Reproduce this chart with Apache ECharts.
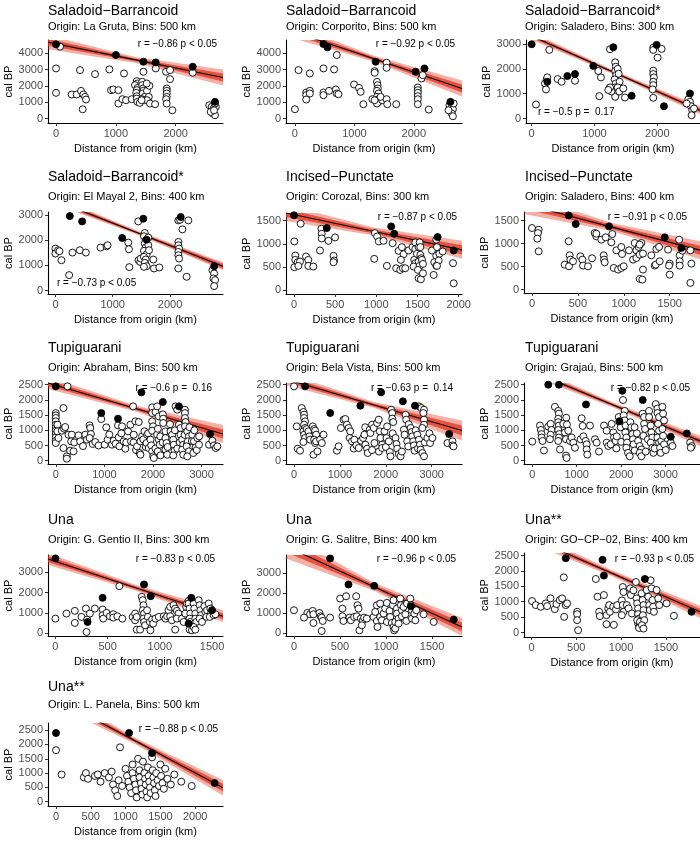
<!DOCTYPE html>
<html><head><meta charset="utf-8">
<script src="https://cdn.jsdelivr.net/npm/echarts/dist/echarts.min.js"></script>
<style>html,body{margin:0;padding:0;background:#fff}#c{width:700px;height:841px}</style>
</head><body><div id="c"></div>
<script>
// ---------------- DATA ----------------
const panelTitles = ["Saladoid−Barrancoid","Saladoid−Barrancoid","Saladoid−Barrancoid*","Saladoid−Barrancoid*","Incised−Punctate","Incised−Punctate","Tupiguarani","Tupiguarani","Tupiguarani","Una","Una","Una**","Una**"];
const panelSubtitles = ["Origin: La Gruta, Bins: 500 km","Origin: Corporito, Bins: 500 km","Origin: Saladero, Bins: 300 km","Origin: El Mayal 2, Bins: 400 km","Origin: Corozal, Bins: 300 km","Origin: Saladero, Bins: 400 km","Origin: Abraham, Bins: 500 km","Origin: Bela Vista, Bins: 500 km","Origin: Grajaú, Bins: 500 km","Origin: G. Gentio II, Bins: 300 km","Origin: G. Salitre, Bins: 400 km","Origin: GO−CP−02, Bins: 400 km","Origin: L. Panela, Bins: 500 km"];
const statLabels = ["r = −0.86 p < 0.05","r = −0.92 p < 0.05","r = −0.5 p =  0.17","r = −0.73 p < 0.05","r = −0.87 p < 0.05","r = −0.91 p < 0.05","r = −0.6 p =  0.16","r = −0.63 p =  0.14","r = −0.82 p < 0.05","r = −0.83 p < 0.05","r = −0.96 p < 0.05","r = −0.93 p < 0.05","r = −0.88 p < 0.05"];
const xAxisTitle = "Distance from origin (km)";
const yAxisTitle = "cal BP";

const xTicks1000 = [0, 1000, 2000];
const xTicks500to2000 = [0, 500, 1000, 1500, 2000];
const xTicks500to1500 = [0, 500, 1000, 1500];
const xTicks1000to3000 = [0, 1000, 2000, 3000];
const yTicks0to4000 = [0, 1000, 2000, 3000, 4000];
const yTicks0to3000 = [0, 1000, 2000, 3000];
const yTicks0to1500 = [0, 500, 1000, 1500];
const yTicks0to2500 = [0, 500, 1000, 1500, 2000, 2500];

// Panel 1 – La Gruta
const p1Open = [[67,4410],[0,3077],[0,1580],[401,2974],[652,2728],[891,3015],[1136,2769],[1460,2872],[1666,3077],[1838,2872],[1905,2974],[1905,2420],[2284,2810],[262,1477],[345,1477],[418,1700],[457,1477],[485,1333],[501,1170],[446,574],[919,1744],[958,1785],[1042,1744],[1042,923],[1109,1190],[1170,1128],[1265,1190],[1350,2297],[1360,2154],[1320,2051],[1365,1887],[1350,1744],[1340,1580],[1350,1374],[1350,1231],[1360,1026],[1440,2256],[1440,2051],[1455,1846],[1460,1703],[1450,1539],[1480,1333],[1435,1190],[1475,1128],[1520,1703],[1550,1333],[1520,1128],[1560,2010],[1400,964],[1430,1128],[1515,2154],[1571,923],[1655,882],[1850,1846],[1850,1703],[1850,1539],[1850,1333],[1840,1190],[1850,923],[1944,513],[2560,820],[2600,718],[2630,615],[2620,308],[2657,205],[2670,718],[2585,410],[2657,923],[2640,510]];
const p1Max = [[0,4554],[1000,3900],[1460,3487],[1666,3446],[2284,3180],[2657,1026]];
const p1FitX = [-134,1328,2790], p1FitY = [4680,3600,2520], p1BandIn = [215,90,245], p1BandOut = [430,185,490];

// Panel 2 – Corporito
const p2Open = [[0,574],[61,2974],[251,2769],[480,3077],[659,3015],[704,3897],[1542,3426],[1542,3118],[1341,2913],[1341,2810],[190,1600],[190,1436],[190,1170],[251,1703],[251,1539],[480,1600],[480,1436],[575,1703],[687,1785],[704,1539],[732,1497],[994,2092],[1078,1887],[1106,1641],[1151,882],[1302,1190],[1380,2256],[1390,2051],[1395,1846],[1380,1703],[1405,1539],[1380,1333],[1390,1169],[1405,1026],[1380,923],[1341,1128],[1469,1128],[1441,1333],[1542,1190],[1553,882],[1704,882],[2067,1908],[2067,1744],[2067,1580],[2067,1374],[2067,1190],[2067,882],[2128,2462],[2150,2667],[2251,554],[2600,820],[2640,718],[2657,574],[2640,308],[2657,144],[2583,513],[2670,923]];
const p2Max = [[480,4574],[547,4369],[1358,3487],[2028,2872],[2179,3077],[2615,1026]];
const p2FitX = [-150,1330,2810], p2FitY = [5485,3666,1846], p2BandIn = [215,90,245], p2BandOut = [430,185,490];

// Panel 3 – Saladero (Saladoid)
const p3Open = [[69,565],[281,2759],[240,1575],[249,1655],[212,1413],[228,1171],[414,1588],[477,1480],[690,1521],[1061,1911],[1103,1655],[1077,902],[1247,2786],[1236,1211],[1330,2261],[1340,2086],[1330,1911],[1345,1750],[1320,1575],[1340,1413],[1330,1252],[1320,1117],[1340,983],[1330,875],[1370,2000],[1385,1800],[1400,1480],[1370,1252],[1395,1090],[1270,1090],[1247,1252],[1220,1150],[1459,1211],[1485,848],[1936,2853],[1936,2759],[2069,2800],[2005,2450],[1936,1925],[1936,1790],[1946,1655],[1936,1480],[1936,1346],[1925,1171],[1936,835],[2494,780],[2520,673],[2536,498],[2557,336],[2546,135],[2584,404],[2467,606]];
const p3Max = [[0,2988],[249,1480],[568,1709],[690,1790],[981,2113],[1300,2867],[1592,915],[1989,2961],[2106,498],[2520,1009]];
const p3FitX = [-90,1295,2680], p3FitY = [3413,1874,335], p3BandIn = [80,40,80], p3BandOut = [160,80,160];

// Panel 4 – El Mayal 2
const p4Open = [[0,1664],[0,1468],[47,1599],[70,1560],[105,1206],[239,616],[297,1507],[426,1599],[531,1507],[787,1704],[892,1756],[910,1795],[1271,1900],[1283,1638],[1289,931],[1446,2739],[1450,1206],[1480,1140],[1490,1271],[1560,2280],[1545,2150],[1575,1992],[1560,1861],[1575,1704],[1545,1573],[1592,1442],[1545,1337],[1575,1232],[1560,1101],[1592,970],[1545,944],[1621,2100],[1621,1800],[1633,1600],[1708,1232],[1720,878],[1813,918],[2146,2778],[2175,2805],[2146,1927],[2146,1795],[2158,1664],[2146,1533],[2146,1402],[2158,1271],[2146,878],[2216,2424],[2320,2778],[2291,550],[2741,812],[2770,681],[2758,485],[2787,420],[2770,183]];
const p4Max = [[251,2949],[466,2739],[1166,2084],[1534,2844],[1592,2018],[2187,2910],[2770,970]];
const p4FitX = [-130,1397,2925], p4FitY = [3675,2321,966], p4BandIn = [100,40,100], p4BandOut = [160,80,160];

// Panel 5 – Corozal
const p5Open = [[4,1051],[16,746],[16,652],[4,493],[45,601],[73,616],[53,522],[81,1435],[146,725],[174,652],[174,522],[235,507],[316,855],[333,1326],[337,1217],[337,1116],[418,1065],[499,1138],[480,739],[487,638],[480,601],[982,1232],[1010,1159],[1030,1051],[974,674],[1087,1065],[1128,522],[1197,1014],[1241,471],[1290,435],[1322,471],[1351,471],[1270,848],[1310,928],[1331,775],[1298,652],[1391,855],[1440,928],[1473,1029],[1473,884],[1460,652],[1473,580],[1452,507],[1493,783],[1514,928],[1514,616],[1526,522],[1505,435],[1526,1029],[1534,928],[1534,761],[1546,688],[1554,652],[1566,565],[1513,254],[1541,232],[1566,362],[1675,855],[1728,739],[1704,601],[1728,522],[1696,326],[1728,1090],[1736,928],[1765,783],[1757,638],[1736,522],[1805,833],[1931,580],[1939,145]];
const p5Max = [[0,1616],[398,1341],[1180,1377],[1217,1217],[1744,1145],[1939,855]];
const p5FitX = [-97,971,2040], p5FitY = [1667,1268,869], p5BandIn = [87,43,98], p5BandOut = [175,87,195];

// Panel 6 – Saladero (Incised)
const p6Open = [[0,1341],[73,1304],[65,1232],[58,1109],[73,833],[400,1051],[410,746],[418,652],[356,543],[403,507],[447,616],[527,725],[549,652],[556,522],[610,507],[654,681],[683,1232],[701,1159],[701,1217],[755,1087],[781,746],[785,652],[792,594],[803,1138],[864,1029],[875,1210],[890,471],[937,435],[973,471],[919,855],[973,928],[981,775],[999,507],[1057,855],[1119,1014],[1101,652],[1137,688],[1137,855],[1162,928],[1173,761],[1173,232],[1202,217],[1191,1014],[1173,978],[1209,435],[1209,783],[1300,746],[1337,522],[1348,543],[1355,884],[1384,928],[1391,616],[1482,870],[1500,565],[1493,522],[1500,326],[1602,1087],[1609,746],[1609,616],[1609,522],[1638,848],[1725,855],[1736,565],[1725,145]];
const p6Max = [[400,1616],[476,1428],[839,1377],[1446,1138],[1627,906]];
const p6FitX = [-87,871,1830], p6FitY = [1864,1361,859], p6BandIn = [109,44,98], p6BandOut = [218,87,196];

// Panel 7 – Abraham
const p7Open = [[241,2445],[158,1732],[0,1568],[0,1491],[0,1404],[0,1294],[0,1184],[0,1075],[0,987],[0,877],[0,768],[0,658],[0,581],[34,1184],[34,965],[55,746],[124,987],[172,1053],[193,1107],[158,417],[227,143],[227,66],[296,329],[262,855],[330,855],[317,636],[365,307],[380,600],[468,833],[502,636],[560,480],[606,855],[640,691],[695,1162],[709,1075],[723,877],[695,746],[760,550],[812,614],[880,500],[936,1371],[1005,526],[1039,1096],[1067,691],[1100,860],[1156,526],[1191,658],[1230,560],[1280,1162],[1294,768],[1308,471],[1350,900],[1363,1129],[1397,636],[1431,395],[1450,600],[1487,965],[1535,1184],[1548,636],[1590,1787],[1600,600],[1604,855],[1638,1294],[1650,350],[1672,471],[1707,1272],[1727,252],[1741,197],[1741,636],[1776,800],[1800,700],[1824,965],[1850,450],[1865,581],[1879,855],[1900,900],[1913,417],[1948,691],[1962,504],[1982,307],[2003,143],[2017,88],[1982,1754],[1982,1568],[1982,1294],[2003,1129],[1982,987],[2050,400],[2051,1601],[2085,1787],[2120,1458],[2085,855],[2100,1050],[2120,691],[2140,526],[2099,307],[2150,800],[2154,175],[2200,600],[2202,1524],[2209,1382],[2209,1239],[2257,965],[2257,746],[2278,581],[2257,362],[2292,197],[2300,450],[2350,1200],[2361,965],[2395,855],[2416,691],[2429,526],[2443,329],[2416,175],[2450,1000],[2464,1787],[2498,1677],[2500,400],[2533,1184],[2550,600],[2567,1075],[2567,855],[2601,691],[2622,526],[2601,362],[2622,197],[2650,850],[2657,1677],[2657,1568],[2657,1404],[2670,1272],[2657,1129],[2700,550],[2705,965],[2739,800],[2718,636],[2691,471],[2739,307],[2705,143],[2750,1100],[2800,650],[2808,855],[2842,636],[2850,1000],[2877,438],[2829,252],[2900,350],[2911,746],[2946,526],[2950,800],[3152,526],[3221,658],[3255,504],[3290,417],[3324,471]];
const p7Max = [[0,2445],[936,1568],[1280,1382],[1762,2248],[2202,1930],[2533,1787],[3173,877]];
const p7FitX = [-160,1640,3440], p7FitY = [2559,1719,879], p7BandIn = [99,49,148], p7BandOut = [197,99,296];

// Panel 8 – Bela Vista
const p8Open = [[0,2445],[58,1129],[80,395],[131,329],[168,1732],[204,1601],[219,1513],[219,1404],[241,1294],[219,1184],[241,1075],[204,965],[219,855],[241,746],[204,614],[277,1039],[314,965],[336,800],[350,691],[409,1129],[438,1039],[460,987],[482,855],[438,691],[460,581],[482,636],[423,197],[511,307],[569,691],[642,855],[606,581],[934,329],[971,471],[1022,1075],[1080,1349],[1117,1371],[1153,1184],[1190,1075],[1226,965],[1212,746],[1263,636],[1300,400],[1314,691],[1358,504],[1409,417],[1460,658],[1504,746],[1533,855],[1550,1100],[1555,526],[1591,395],[1606,252],[1650,1020],[1664,910],[1700,350],[1701,1184],[1737,1075],[1752,581],[1810,1239],[1847,1349],[1850,300],[1869,965],[1883,746],[1920,526],[1920,417],[1971,965],[2000,450],[2015,746],[2029,1129],[2066,636],[2088,285],[2102,143],[2117,1677],[2139,1568],[2139,1382],[2150,900],[2161,1272],[2212,746],[2234,548],[2248,395],[2285,219],[2321,143],[2350,300],[2394,1020],[2409,855],[2431,1509],[2445,1349],[2467,636],[2489,471],[2500,1200],[2540,1075],[2562,943],[2577,800],[2599,636],[2613,504],[2628,329],[2650,1000],[2700,400],[2723,1787],[2774,1732],[2832,1677],[2818,1568],[2832,1349],[2832,1184],[2796,1075],[2686,855],[2723,691],[2745,526],[2759,362],[2796,252],[2832,143],[2850,600],[2905,746],[2950,900],[2964,581],[3015,746],[3343,581],[3453,636],[3453,504],[3475,471]];
const p8Max = [[241,2445],[788,1568],[1445,1809],[1898,2248],[2372,1952],[2635,1809],[3380,877]];
const p8FitX = [-175,1742,3660], p8FitY = [2680,1835,990], p8BandIn = [99,49,165], p8BandOut = [197,99,329];

// Panel 9 – Grajaú
const p9Open = [[0,628],[173,1155],[195,1009],[210,875],[210,762],[233,650],[263,336],[360,1121],[413,1211],[435,1009],[413,852],[398,706],[510,1771],[585,1637],[600,1547],[585,1379],[585,1267],[600,1155],[585,1009],[608,875],[600,762],[585,650],[623,370],[698,1211],[735,930],[758,706],[765,1413],[780,1188],[758,168],[773,90],[810,987],[848,650],[885,762],[923,594],[960,426],[1088,706],[1110,1395],[1133,1143],[1150,800],[1200,650],[1223,538],[1223,370],[1238,202],[1298,1155],[1410,706],[1448,594],[1500,300],[1613,1155],[1673,987],[1673,594],[1710,482],[1763,538],[1785,1211],[1823,930],[1838,762],[1875,650],[1890,404],[1900,800],[1943,1435],[1965,1267],[1988,1099],[2000,620],[2040,1996],[2078,1637],[2055,1491],[2078,1323],[2100,1155],[2093,930],[2115,762],[2130,594],[2115,426],[2153,258],[2190,146],[2205,1267],[2228,1099],[2250,874],[2265,706],[2280,538],[2303,336],[2300,1100],[2350,900],[2378,650],[2415,482],[2453,370],[2415,258],[2453,146],[2483,1547],[2513,1435],[2513,1211],[2535,1043],[2498,818],[2550,300],[2600,700],[2625,1637],[2625,1435],[2663,1155],[2678,930],[2700,762],[2663,594],[2700,426],[2723,258],[2750,400],[2775,1861],[2813,1715],[2813,1569],[2850,1435],[2828,1211],[2850,987],[2813,762],[2850,594],[2873,426],[2888,258],[2900,650],[2925,1771],[2940,1547],[2963,1323],[2925,1043],[2940,818],[2963,538],[3000,350],[3113,594],[3150,482],[3548,594],[3585,482],[3563,426]];
const p9Max = [[360,2500],[600,2500],[1208,1850],[2025,2298],[1958,1300],[2483,1996],[3113,785],[3473,897]];
const p9FitX = [-185,1792,3770], p9FitY = [3045,1849,652], p9BandIn = [82,40,82], p9BandOut = [165,82,165];

// Panel 10 – G. Gentio II
const p10Open = [[0,713],[106,962],[186,1095],[186,497],[250,796],[292,1211],[304,663],[298,50],[330,962],[378,1211],[452,1161],[452,879],[458,713],[490,995],[522,829],[554,929],[554,763],[593,829],[641,713],[612,2322],[740,796],[763,962],[763,630],[779,796],[779,166],[811,166],[827,1791],[837,1625],[843,1376],[837,1128],[849,962],[843,713],[849,547],[859,381],[878,1128],[885,796],[904,547],[910,133],[926,663],[936,464],[958,713],[990,796],[1038,829],[1054,713],[1070,829],[1083,1128],[1099,1294],[1099,829],[1115,630],[1131,1376],[1147,1211],[1163,1095],[1179,962],[1163,713],[1147,166],[1211,713],[1228,547],[1244,962],[1253,1294],[1260,1460],[1276,1592],[1276,1460],[1285,1211],[1292,962],[1285,713],[1292,547],[1298,332],[1285,166],[1308,133],[1324,1460],[1330,1211],[1340,962],[1340,713],[1349,547],[1324,298],[1340,166],[1372,1625],[1381,1376],[1388,1128],[1394,879],[1381,713],[1404,547],[1426,1327],[1436,1045],[1446,796],[1452,1128],[1468,1460],[1484,1211],[1490,962],[1478,796],[1516,879],[1532,929]];
const p10Max = [[0,3698],[452,1741],[308,547],[849,2405],[913,1824],[1301,1741],[1500,1128],[1276,464]];
const p10FitX = [-71,767,1605], p10FitY = [3665,2247,829], p10BandIn = [149,74,149], p10BandOut = [298,149,298];

// Panel 11 – G. Salitre
const p11Open = [[0,1133],[145,1000],[174,933],[109,767],[203,1100],[211,933],[211,500],[276,1000],[290,833],[301,767],[312,600],[301,100],[392,767],[501,1717],[526,1217],[526,833],[537,600],[566,1833],[603,767],[617,633],[675,1833],[690,1383],[701,1217],[653,800],[682,833],[726,717],[748,633],[762,767],[791,717],[711,133],[737,383],[864,800],[882,1050],[900,1383],[900,600],[907,300],[936,1467],[936,800],[954,633],[973,967],[991,1217],[1009,1500],[1009,550],[1038,1100],[1045,800],[1063,500],[1074,1383],[1081,1633],[1081,300],[1089,133],[1100,217],[1100,550],[1118,1217],[1118,967],[1136,717],[1136,467],[1154,1717],[1161,1383],[1172,1133],[1172,833],[1190,1300],[1209,933],[1220,600],[1227,1467],[1263,1717],[1270,1383],[1281,1133],[1281,717],[1307,967],[1318,633],[1328,1133],[1408,933],[1517,550]];
const p11Max = [[392,3717],[592,2417],[871,2350],[1270,1333],[1735,667]];
const p11FitX = [-87,869,1825], p11FitY = [4318,2310,303], p11BandIn = [300,100,225], p11BandOut = [600,200,450];

// Panel 12 – GO-CP-02
const p12Open = [[7,1022],[48,891],[104,837],[160,946],[175,859],[212,1109],[260,761],[279,924],[316,1054],[342,1109],[383,891],[398,946],[361,1793],[365,511],[510,674],[510,598],[510,402],[521,76],[718,1739],[737,1163],[755,674],[763,533],[808,1217],[837,565],[856,783],[867,891],[875,674],[837,272],[912,837],[919,250],[942,750],[957,891],[1019,1478],[1027,1315],[1008,1043],[1019,891],[1027,674],[1008,565],[1064,891],[1083,783],[1101,1435],[1109,1217],[1120,620],[1138,1370],[1165,1641],[1172,1109],[1179,946],[1190,783],[1190,598],[1202,457],[1190,293],[1202,185],[1180,400],[1210,350],[1200,150],[1229,1272],[1240,1054],[1250,891],[1250,728],[1243,565],[1258,402],[1232,239],[1250,130],[1285,1380],[1303,1163],[1314,891],[1321,728],[1329,1696],[1340,1435],[1351,1054],[1358,837],[1366,674],[1396,1380],[1414,1109],[1425,891],[1507,946],[1589,543]];
const p12Max = [[383,2413],[793,2359],[808,1848],[1265,1739],[1786,674]];
const p12FitX = [-83,898,1880], p12FitY = [3172,1922,672], p12BandIn = [98,49,98], p12BandOut = [197,98,197];

// Panel 13 – L. Panela
const p13Open = [[0,1800],[80,950],[400,850],[430,1000],[460,800],[560,900],[600,950],[640,700],[700,1000],[760,850],[800,1050],[820,600],[850,400],[880,200],[900,750],[920,1900],[950,550],[1000,1150],[1020,900],[1040,700],[1060,500],[1080,300],[1100,1300],[1100,1000],[1120,800],[1140,600],[1150,400],[1160,150],[1180,1500],[1200,1100],[1200,850],[1220,650],[1230,450],[1240,250],[1250,1400],[1270,1000],[1280,800],[1290,600],[1300,350],[1310,150],[1320,1200],[1330,900],[1340,700],[1350,500],[1360,300],[1380,1550],[1390,1100],[1400,850],[1410,650],[1420,400],[1430,200],[1440,1000],[1460,750],[1480,550],[1500,1300],[1510,900],[1530,650],[1550,450],[1570,1150],[1600,800],[1650,600],[1700,950],[1800,700],[1950,550]];
const p13Max = [[0,2400],[1050,2400],[1380,1700],[2280,650]];
const p13FitX = [-115,1142,2400], p13FitY = [3750,2120,490], p13BandIn = [135,55,135], p13BandOut = [270,110,270];

// ---------------- LAYOUT ----------------
const layout = [
  {l:48, t:40, w:175,h:83, x:[-134,2790], y:[-270,4820], xt:xTicks1000, yt:yTicks0to4000},
  {l:286,t:40, w:176,h:83, x:[-150,2810], y:[-270,4820], xt:xTicks1000, yt:yTicks0to4000},
  {l:526,t:40, w:174,h:83, x:[-90,2680],  y:[-177,3157], xt:xTicks1000, yt:yTicks0to3000},
  {l:48, t:212,w:175,h:82, x:[-130,2925], y:[-130,3110], xt:xTicks1000, yt:yTicks0to3000},
  {l:286,t:213,w:176,h:81, x:[-97,2040],  y:[-87,1667],  xt:xTicks500to2000, yt:yTicks0to1500},
  {l:524,t:212,w:176,h:81, x:[-87,1830],  y:[-75,1690],  xt:xTicks500to1500, yt:yTicks0to1500},
  {l:48, t:383,w:175,h:81, x:[-160,3440], y:[-109,2556], xt:xTicks1000to3000, yt:yTicks0to2500},
  {l:286,t:383,w:176,h:81, x:[-175,3660], y:[-109,2556], xt:xTicks1000to3000, yt:yTicks0to2500},
  {l:524,t:383,w:176,h:81, x:[-185,3770], y:[-109,2556], xt:xTicks1000to3000, yt:yTicks0to2500},
  {l:48, t:555,w:175,h:81, x:[-71,1605],  y:[-150,3866], xt:xTicks500to1500, yt:yTicks0to3000},
  {l:286,t:555,w:176,h:81, x:[-87,1825],  y:[-150,3888], xt:xTicks500to1500, yt:yTicks0to3000},
  {l:524,t:553,w:176,h:84, x:[-83,1880],  y:[-144,2582], xt:xTicks500to1500, yt:yTicks0to2500},
  {l:48, t:723,w:175,h:83, x:[-115,2400], y:[-150,2750], xt:xTicks500to2000, yt:yTicks0to2500}
];
const titleX = [48, 286, 525];
const titleY = [11, 177, 348, 520, 687];
const subY = [27, 197, 368, 540, 705];
const statPos = [
  [217,44,'right'],[455,44,'right'],[538,112,'left'],
  [57,283,'left'],[457,217,'right'],[687,217,'right'],
  [212,388,'right'],[453,388,'right'],[690,388,'right'],
  [215,559,'right'],[456,559,'right'],[694,559,'right'],
  [218,729,'right']
];

const panels = [
  [p1Open,p1Max,p1FitX,p1FitY,p1BandIn,p1BandOut],
  [p2Open,p2Max,p2FitX,p2FitY,p2BandIn,p2BandOut],
  [p3Open,p3Max,p3FitX,p3FitY,p3BandIn,p3BandOut],
  [p4Open,p4Max,p4FitX,p4FitY,p4BandIn,p4BandOut],
  [p5Open,p5Max,p5FitX,p5FitY,p5BandIn,p5BandOut],
  [p6Open,p6Max,p6FitX,p6FitY,p6BandIn,p6BandOut],
  [p7Open,p7Max,p7FitX,p7FitY,p7BandIn,p7BandOut],
  [p8Open,p8Max,p8FitX,p8FitY,p8BandIn,p8BandOut],
  [p9Open,p9Max,p9FitX,p9FitY,p9BandIn,p9BandOut],
  [p10Open,p10Max,p10FitX,p10FitY,p10BandIn,p10BandOut],
  [p11Open,p11Max,p11FitX,p11FitY,p11BandIn,p11BandOut],
  [p12Open,p12Max,p12FitX,p12FitY,p12BandIn,p12BandOut],
  [p13Open,p13Max,p13FitX,p13FitY,p13BandIn,p13BandOut]
];

// ---------------- BUILD ----------------
const FONT = "'Liberation Sans', Arial, Helvetica, sans-serif";
const grids = [], xAxes = [], yAxes = [], series = [], graphics = [];
const fmt = v => String(v);

panels.forEach((p, i) => {
  const L = layout[i];
  const [open, maxPts, fx, fy, bIn, bOut] = p;
  grids.push({left:L.l, top:L.t, width:L.w, height:L.h, containLabel:false});
  const axCommon = {
    type:'value', gridIndex:i,
    axisLine:{show:true, onZero:false, lineStyle:{color:'#000', width:1.1}},
    splitLine:{show:false},
    nameTextStyle:{color:'#000', fontSize:11, fontFamily:FONT},
    nameLocation:'middle'
  };
  xAxes.push(Object.assign({}, axCommon, {
    min:L.x[0], max:L.x[1],
    axisTick:{show:true, length:3, customValues:L.xt, lineStyle:{color:'#333', width:1}},
    axisLabel:{customValues:L.xt, formatter:fmt, color:'#4d4d4d', fontSize:11, fontFamily:FONT, margin:5},
    name:xAxisTitle, nameGap:20
  }));
  yAxes.push(Object.assign({}, axCommon, {
    min:L.y[0], max:L.y[1],
    axisTick:{show:true, length:3, customValues:L.yt, lineStyle:{color:'#333', width:1}},
    axisLabel:{customValues:L.yt, formatter:fmt, color:'#4d4d4d', fontSize:11, fontFamily:FONT, margin:5},
    name:yAxisTitle, nameGap:33, nameRotate:90
  }));
  [[bOut, 0.4], [bIn, 0.8]].forEach(([hw, op]) => {
    const item = [];
    for (let k = 0; k < 3; k++) item.push(fx[k], fy[k] - hw[k], fy[k] + hw[k]);
    series.push({
      type:'custom', xAxisIndex:i, yAxisIndex:i, clip:true, silent:true, z:1,
      dimensions:['x0','lo0','hi0','xm','lom','him','x1','lo1','hi1'],
      encode:{x:[0,3,6], y:[1,2,4,5,7,8]},
      data:[item],
      renderItem:(params, api) => {
        const pts = [];
        for (let k = 0; k < 3; k++) pts.push(api.coord([api.value(3*k), api.value(3*k+2)]));
        for (let k = 2; k >= 0; k--) pts.push(api.coord([api.value(3*k), api.value(3*k+1)]));
        return {type:'polygon', shape:{points:pts}, style:{fill:'rgb(228,58,36)', opacity:op}};
      }
    });
  });
  series.push({type:'line', xAxisIndex:i, yAxisIndex:i, data:fx.map((x,k)=>[x, fy[k]]),
    symbol:'none', silent:true, z:3, lineStyle:{color:'#000', width:1.1}});
  series.push({type:'scatter', xAxisIndex:i, yAxisIndex:i, data:open, symbol:'circle', symbolSize:7,
    silent:true, z:4, itemStyle:{color:'#fff', borderColor:'#000', borderWidth:0.9, opacity:1}});
  series.push({type:'scatter', xAxisIndex:i, yAxisIndex:i, data:maxPts, symbol:'circle', symbolSize:7,
    silent:true, z:5, itemStyle:{color:'#000', borderColor:'#000', borderWidth:0.9, opacity:1}});

  const col = i % 3, row = Math.floor(i / 3);
  graphics.push({type:'text', x:titleX[col], y:titleY[row], silent:true,
    style:{text:panelTitles[i], fill:'#000', font:'14px ' + FONT, align:'left', verticalAlign:'middle'}});
  graphics.push({type:'text', x:titleX[col], y:subY[row], silent:true,
    style:{text:panelSubtitles[i], fill:'#000', font:'11px ' + FONT, align:'left', verticalAlign:'middle'}});
  const sp = statPos[i];
  graphics.push({type:'text', x:sp[0], y:sp[1], silent:true, z:0,
    style:{text:statLabels[i], fill:'#000', font:'10px ' + FONT, align:sp[2], verticalAlign:'middle'}});
});

const chart = echarts.init(document.getElementById('c'), null, {renderer:'canvas'});
chart.setOption({
  animation:false,
  backgroundColor:'#fff',
  grid:grids, xAxis:xAxes, yAxis:yAxes, series:series,
  graphic:{elements:graphics}
});
</script>
</body></html>
